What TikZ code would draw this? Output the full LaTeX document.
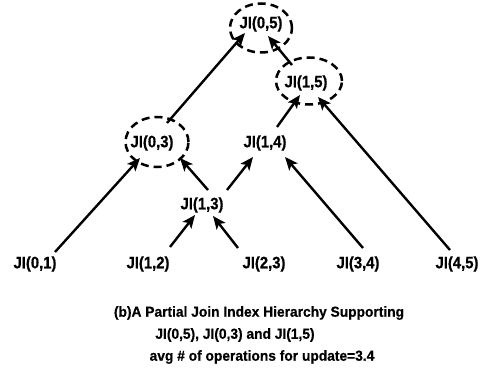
\documentclass[tikz,border=0pt]{standalone}
\usepackage{fontspec}
\setmainfont{Liberation Sans}
\newfontfamily\labfont{Liberation Sans}[FakeStretch=0.9,BoldFeatures={FakeBold=0.6}]
\newfontfamily\capfont{Liberation Sans}[FakeStretch=0.95,BoldFeatures={FakeBold=0.5}]
\usetikzlibrary{arrows.meta,shapes.geometric,calc}
\begin{document}
\begin{tikzpicture}[x=1pt,y=1pt,
  ji/.style={inner sep=0pt,font=\labfont\fontsize{16.5}{16.5}\selectfont\bfseries},
  captext/.style={inner sep=0pt,font=\capfont\fontsize{14.5}{14.5}\selectfont\bfseries},
  sel/.style={draw,ellipse,dash pattern=on 8pt off 5pt,line width=2.5pt},
  arr/.style={line width=2.4pt,-{Stealth[length=13pt,width=11pt,inset=3pt]}}]
\useasboundingbox (0,0) rectangle (486,378);

% selected (materialised) join indices
\node[sel,minimum width=62pt,minimum height=49pt] (e05) at (261,350) {};
\node[sel,minimum width=66pt,minimum height=47pt] (e15) at (309,297) {};
\node[sel,minimum width=63pt,minimum height=50pt] (e03) at (157,236) {};

% hierarchy nodes
\node[ji] (n05) at (261,354) {JI(0,5)};
\node[ji] (n15) at (306,295) {JI(1,5)};
\node[ji] (n03) at (152,235) {JI(0,3)};
\node[ji] (n14) at (265,235) {JI(1,4)};
\node[ji] (n13) at (202,173) {JI(1,3)};
\node[ji] (n01) at (35,114)  {JI(0,1)};
\node[ji] (n12) at (148,114) {JI(1,2)};
\node[ji] (n23) at (264,114) {JI(2,3)};
\node[ji] (n34) at (358,114) {JI(3,4)};
\node[ji] (n45) at (457,114) {JI(4,5)};

% update propagation
\draw[arr] ($(n01)+(20,12)$)  -- ($(n03)+(-12,-15)$);
\draw[arr] ($(n12)+(22,17)$)  -- ($(n13)+(-7,-10)$);
\draw[arr] ($(n23)+(-26,16)$) -- ($(n13)+(11,-11)$);
\draw[arr] ($(n13)+(6,15)$)   -- ($(n03)+(28,-15)$);
\draw[arr] ($(n13)+(25,15)$)  -- ($(n14)+(-12,-14)$);
\draw[arr] ($(n03)+(15,20)$)  -- ($(n05)+(-16,-9)$);
\draw[arr] ($(n15)+(-14,18)$) -- ($(n05)+(7,-12)$);
\draw[arr] ($(n14)+(12,16)$)  -- ($(n15)+(-6,-12)$);
\draw[arr] ($(n34)+(5,16)$)   -- ($(n14)+(20,-14)$);
\draw[arr] ($(n45)+(-7,14)$)  -- ($(n15)+(12,-14)$);

% caption
\node[captext] (c1) at (259,65) {(b)A Partial Join Index Hierarchy Supporting};
\node[captext] (c2) at (235,43) {JI(0,5), JI(0,3) and JI(1,5)};
\node[captext] (c3) at (262,21) {avg \# of operations for update=3.4};
\end{tikzpicture}
\end{document}
